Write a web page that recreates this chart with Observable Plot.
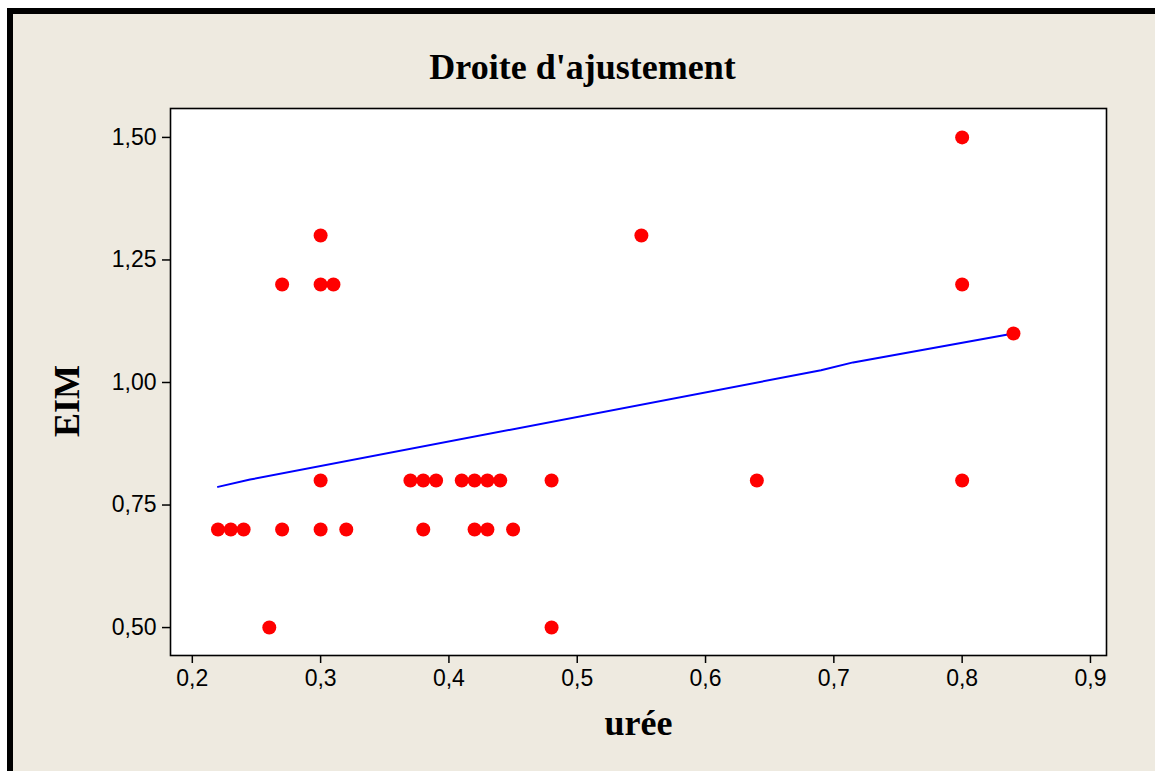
<!DOCTYPE html>
<html>
<head>
<meta charset="utf-8">
<script src="https://cdn.jsdelivr.net/npm/d3@7"></script>
<script src="https://cdn.jsdelivr.net/npm/@observablehq/plot@0.6"></script>
<style>
  html, body { margin: 0; padding: 0; background: white; width: 1155px; height: 771px; overflow: hidden; }
  #bg { position: absolute; left: 7px; top: 8px; width: 1148px; height: 763px; box-sizing: border-box;
        background: #EEEAE0; border-left: 6px solid black; border-top: 6px solid black; }
  #chart { position: absolute; left: 0; top: 0; }
</style>
</head>
<body>
<div id="bg"></div>
<div id="chart"></div>
<script>
// Data
const uree = [0.22, 0.23, 0.24, 0.26, 0.27, 0.27, 0.30, 0.30, 0.31, 0.30, 0.30, 0.32,
              0.37, 0.38, 0.39, 0.38, 0.41, 0.42, 0.43, 0.44, 0.42, 0.43, 0.45,
              0.48, 0.48, 0.55, 0.64, 0.80, 0.80, 0.80, 0.84];
const eim  = [0.70, 0.70, 0.70, 0.50, 1.20, 0.70, 1.30, 1.20, 1.20, 0.80, 0.70, 0.70,
              0.80, 0.80, 0.80, 0.70, 0.80, 0.80, 0.80, 0.80, 0.70, 0.70, 0.70,
              0.80, 0.50, 1.30, 0.80, 1.50, 1.20, 0.80, 1.10];
// Fitted line as drawn
const fitX = [0.22, 0.245, 0.69, 0.715, 0.84];
const fitY = [0.787, 0.802, 1.025, 1.041, 1.100];
// Ticks
const xTicks = [0.2, 0.3, 0.4, 0.5, 0.6, 0.7, 0.8, 0.9];
const yTicks = [0.50, 0.75, 1.00, 1.25, 1.50];
const title = "Droite d'ajustement";
const xLabel = "urée";
const yLabel = "EIM";

const points = uree.map((u, i) => ({x: u, y: eim[i]}));
const fit = fitX.map((u, i) => ({x: u, y: fitY[i]}));
const fmt = d => d.toLocaleString("fr-FR", {minimumFractionDigits: 1, maximumFractionDigits: 1});
const fmtY = d => d.toLocaleString("fr-FR", {minimumFractionDigits: 2, maximumFractionDigits: 2});

const serif = "'Liberation Serif', 'Times New Roman', serif";

const plot = Plot.plot({
  width: 1155,
  height: 771,
  marginLeft: 170,
  marginRight: 49,
  marginTop: 108,
  marginBottom: 116,
  style: {background: "transparent", fontFamily: "'Liberation Sans', Arial, sans-serif", fontSize: "23px", color: "black", overflow: "visible"},
  x: {domain: [0.183, 0.9125], ticks: xTicks, tickFormat: fmt, tickSize: 8, tickPadding: 6, label: null},
  y: {domain: [0.443, 1.559], ticks: yTicks, tickFormat: fmtY, tickSize: 8, tickPadding: 6, label: null},
  marks: [
    Plot.frame({fill: "white", stroke: null}),
    Plot.line(fit, {x: "x", y: "y", stroke: "#0000FF", strokeWidth: 2}),
    Plot.dot(points, {x: "x", y: "y", r: 7, fill: "#FF0000", stroke: null}),
    Plot.frame({stroke: "black", strokeWidth: 1.6}),
    Plot.axisX({ticks: xTicks, tickFormat: fmt, tickSize: 8, tickPadding: 6, label: null, stroke: "black", strokeWidth: 1.5}),
    Plot.axisY({ticks: yTicks, tickFormat: fmtY, tickSize: 8, tickPadding: 6, label: null, stroke: "black", strokeWidth: 1.5}),
    Plot.text([title], {frameAnchor: "top", lineAnchor: "middle", textAnchor: "middle", dx: -56, dy: -41, fontFamily: serif, fontWeight: "bold", fontSize: 36, fill: "black"}),
    Plot.text([xLabel], {frameAnchor: "bottom", lineAnchor: "middle", textAnchor: "middle", dy: 68, fontFamily: serif, fontWeight: "bold", fontSize: 36, fill: "black"}),
    Plot.text([yLabel], {frameAnchor: "left", lineAnchor: "middle", textAnchor: "middle", dx: -103, dy: 19, rotate: -90, fontFamily: serif, fontWeight: "bold", fontSize: 36, fill: "black"})
  ]
});
document.getElementById("chart").appendChild(plot);
</script>
</body>
</html>
